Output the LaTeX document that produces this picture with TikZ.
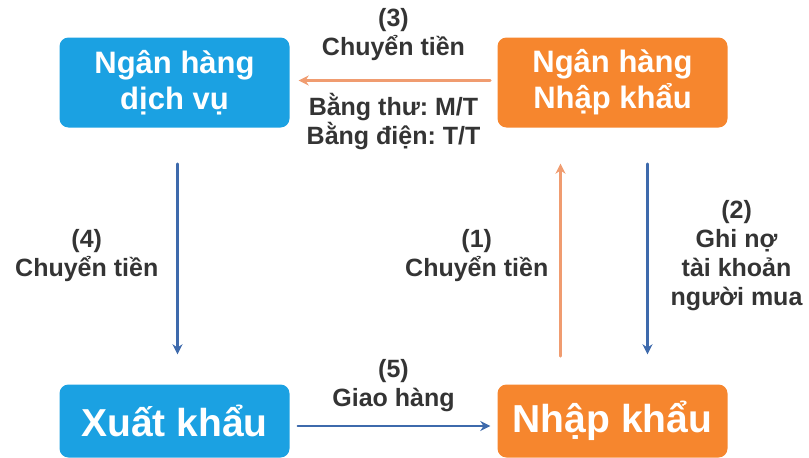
\documentclass[tikz,border=0pt]{standalone}
\usepackage{fontspec}
\setmainfont{Liberation Sans}
\frenchspacing
\usepackage{tikz}
\usetikzlibrary{arrows.meta, positioning}
\definecolor{boxblue}{RGB}{27,161,226}
\definecolor{boxorange}{RGB}{246,134,46}
\definecolor{arrblue}{RGB}{62,106,172}
\definecolor{arrorange}{RGB}{240,156,112}
\definecolor{labgray}{RGB}{52,52,52}

\begin{document}
\begin{tikzpicture}[x=1pt, y=-1pt, line cap=round, line join=round,
    bank/.style={rounded corners=9pt, text=white, align=center, minimum width=230pt, minimum height=90pt,
      font=\fontsize{31}{36}\selectfont\bfseries},
    party/.style={bank, minimum height=73pt, font=\fontsize{39}{42}\selectfont\bfseries},
    lab/.style={text=labgray, align=center, inner sep=0pt, font=\fontsize{25}{29}\selectfont\bfseries},
    flow/.style={line width=2.4pt, -{Stealth[length=10pt, width=10pt]}}]
        \useasboundingbox (0,0) rectangle (809,458);

        % banks (top row)
        \node[bank, fill=boxblue] (dv) at (174.5,82.5) {Ngân hàng\\dịch vụ};
        \node[bank, fill=boxorange] (nhnk) at (612.5,82.5) {Ngân hàng\\Nhập khẩu};

        % buyer and seller (bottom row)
        \node[party, fill=boxblue] (xk) at (174.5,421) {Xuất khẩu};
        \node[party, fill=boxorange] (nk) at (612.5,421) {Nhập khẩu};

        % (1) buyer pays his bank
        \draw[flow, arrorange, shorten <=28pt, shorten >=36pt] ([xshift=-52pt]nk.north) -- ([xshift=-52pt]nhnk.south)
            node[midway, left=11pt, lab] {(1)\\Chuyển tiền};

        % (2) debit buyer's account
        \draw[flow, arrblue, shorten <=36pt, shorten >=30pt] ([xshift=35pt]nhnk.south) -- ([xshift=35pt]nk.north)
            node[midway, right=22pt, lab] {(2)\\Ghi nợ\\tài khoản\\người mua};

        % (3) bank to bank transfer
        \draw[flow, arrorange, shorten <=7pt, shorten >=9pt] ([yshift=2pt]nhnk.west) -- ([yshift=2pt]dv.east)
            node[midway, above=19pt, lab] {(3)\\Chuyển tiền}
            node[midway, below=12pt, lab] {Bằng thư: M/T\\Bằng điện: T/T};

        % (4) service bank pays the seller
        \draw[flow, arrblue, shorten <=36pt, shorten >=30pt] ([xshift=3pt]dv.south) -- ([xshift=3pt]xk.north)
            node[midway, left=18pt, lab] {(4)\\Chuyển tiền};

        % (5) goods delivered
        \draw[flow, arrblue, shorten <=8pt, shorten >=7pt] ([yshift=-5pt]xk.east) -- ([yshift=-5pt]nk.west)
            node[midway, above=13pt, lab] {(5)\\Giao hàng};
    \end{tikzpicture}
\end{document}
